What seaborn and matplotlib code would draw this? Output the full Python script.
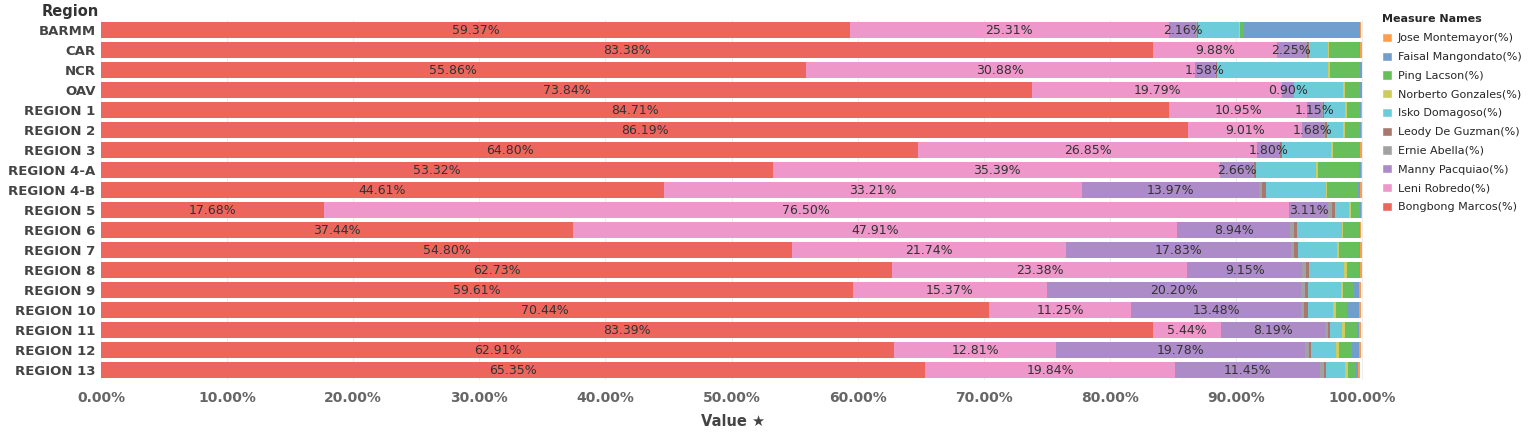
import numpy as np
import pandas as pd
import matplotlib.pyplot as plt
import seaborn as sns
from matplotlib.patches import Patch

regions = ["BARMM", "CAR", "NCR", "OAV", "REGION 1", "REGION 2", "REGION 3", "REGION 4-A",
           "REGION 4-B", "REGION 5", "REGION 6", "REGION 7", "REGION 8", "REGION 9",
           "REGION 10", "REGION 11", "REGION 12", "REGION 13"]

# stacking order, left to right
marcos = [59.37, 83.38, 55.86, 73.84, 84.71, 86.19, 64.80, 53.32, 44.61, 17.68, 37.44, 54.80, 62.73, 59.61, 70.44, 83.39, 62.91, 65.35]
robredo = [25.31, 9.88, 30.88, 19.79, 10.95, 9.01, 26.85, 35.39, 33.21, 76.50, 47.91, 21.74, 23.38, 15.37, 11.25, 5.44, 12.81, 19.84]
pacquiao = [2.16, 2.25, 1.58, 0.90, 1.15, 1.68, 1.80, 2.66, 13.97, 3.11, 8.94, 17.83, 9.15, 20.20, 13.48, 8.19, 19.78, 11.45]
abella = [0.05, 0.10, 0.05, 0.03, 0.05, 0.20, 0.05, 0.05, 0.30, 0.30, 0.30, 0.25, 0.30, 0.25, 0.25, 0.30, 0.25, 0.30]
de_guzman = [0.10, 0.15, 0.15, 0.05, 0.10, 0.15, 0.15, 0.15, 0.25, 0.25, 0.25, 0.25, 0.20, 0.25, 0.25, 0.15, 0.15, 0.20]
domagoso = [3.20, 1.50, 8.80, 3.90, 1.65, 1.25, 3.90, 4.75, 4.75, 1.10, 3.55, 3.10, 2.80, 2.60, 2.05, 0.95, 2.05, 1.50]
gonzales = [0.15, 0.10, 0.10, 0.10, 0.15, 0.15, 0.15, 0.15, 0.15, 0.20, 0.05, 0.15, 0.20, 0.20, 0.20, 0.20, 0.20, 0.20]
lacson = [0.30, 2.40, 2.40, 1.20, 1.10, 1.20, 2.10, 3.30, 2.45, 0.65, 1.30, 1.65, 1.00, 0.85, 0.85, 0.95, 1.00, 0.65]
mangondato = [9.20, 0.10, 0.15, 0.20, 0.05, 0.05, 0.05, 0.10, 0.15, 0.15, 0.05, 0.05, 0.05, 0.45, 1.00, 0.20, 0.60, 0.20]
montemayor = [0.10, 0.15, 0.05, 0.00, 0.10, 0.12, 0.10, 0.10, 0.15, 0.05, 0.15, 0.15, 0.15, 0.15, 0.15, 0.15, 0.15, 0.15]

series = [
    ("Bongbong Marcos(%)", marcos, "#ed665d"),
    ("Leni Robredo(%)", robredo, "#ed97ca"),
    ("Manny Pacquiao(%)", pacquiao, "#ad8bc9"),
    ("Ernie Abella(%)", abella, "#a2a2a2"),
    ("Leody De Guzman(%)", de_guzman, "#a8786e"),
    ("Isko Domagoso(%)", domagoso, "#6dccda"),
    ("Norberto Gonzales(%)", gonzales, "#cdcc5d"),
    ("Ping Lacson(%)", lacson, "#67bf5c"),
    ("Faisal Mangondato(%)", mangondato, "#729ece"),
    ("Jose Montemayor(%)", montemayor, "#ff9e4a"),
]

sns.set_style("white")
fig = plt.figure(figsize=(15.3, 4.45), dpi=100)
ax = fig.add_axes([0.066, 0.146, 0.826, 0.809])

vals = np.array([s[1] for s in series])
cum = np.cumsum(vals, axis=0)
# draw cumulative totals back to front so each layer shows as a stacked segment
for i in range(len(series) - 1, -1, -1):
    df = pd.DataFrame({"Region": regions, "Value": cum[i]})
    sns.barplot(data=df, y="Region", x="Value", orient="h", color=series[i][2],
                saturation=1, width=0.8, ax=ax, edgecolor="none")

# labels for the three largest candidates
for i in range(3):
    starts = cum[i] - vals[i]
    for r in range(len(regions)):
        ax.text(starts[r] + vals[i][r] / 2, r, f"{vals[i][r]:.2f}%", ha="center", va="center",
                fontsize=9, color="#333333")

ax.set_xlim(0, 100.2)
ax.set_ylim(len(regions) - 0.5, -0.5)
ax.set_xticks(range(0, 101, 10))
ax.set_xticklabels([f"{t:.2f}%" for t in range(0, 101, 10)], fontsize=10, fontweight="bold", color="#666666")
ax.tick_params(axis="y", labelsize=9.5, length=0, pad=4)
for lbl in ax.get_yticklabels():
    lbl.set_fontweight("bold")
    lbl.set_color("#444444")
ax.tick_params(axis="x", length=0, pad=8)
ax.xaxis.grid(True, color="#eeeeee", lw=0.8)
ax.set_axisbelow(True)
for sp in ax.spines.values():
    sp.set_visible(False)
ax.set_ylabel("")
ax.set_xlabel("Value \u2605", fontsize=10.5, fontweight="bold", color="#444444", labelpad=6)
fig.text(0.027, 0.965, "Region", fontsize=10.5, fontweight="bold", color="#333333")

handles = [Patch(facecolor=c, label=n) for n, v, c in series[::-1]]
leg = fig.legend(handles=handles, loc="upper left", bbox_to_anchor=(0.897, 0.99), frameon=False,
                 fontsize=8, title="Measure Names", handlelength=0.9, handleheight=0.9,
                 handletextpad=0.5, labelspacing=0.75, alignment="left")
leg.get_title().set_fontsize(8)
leg.get_title().set_fontweight("bold")

fig.savefig("out.png", dpi=100)
